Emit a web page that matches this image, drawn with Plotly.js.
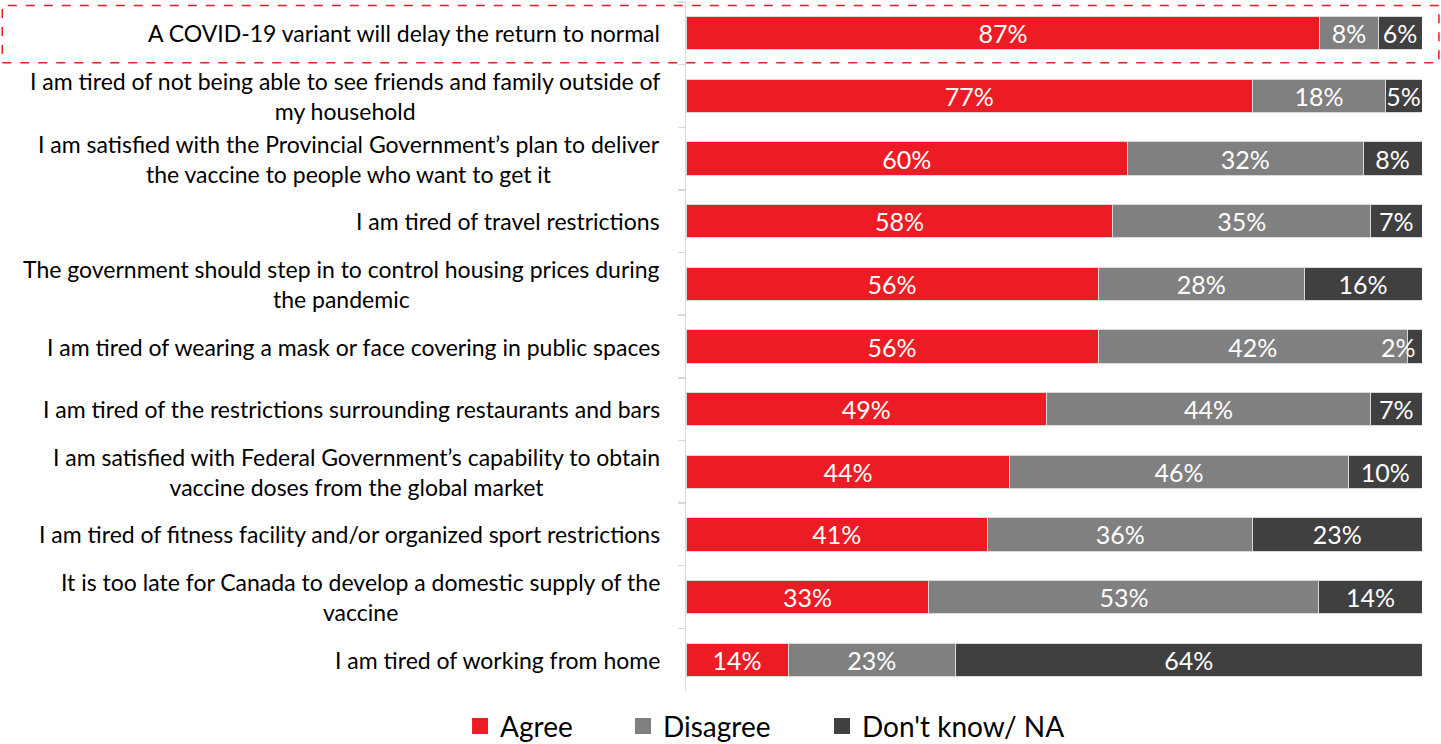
<!DOCTYPE html>
<html><head><meta charset="utf-8">
<script src="https://cdn.plot.ly/plotly-3.0.1.min.js"></script>
<style>html,body{margin:0;padding:0;background:#fff}#chart{width:1441px;height:744px}</style>
</head><body><div id="chart"></div>
<script>
const categories = [
  "A COVID-19 variant will delay the return to normal",
  "I am tired of not being able to see friends and family outside of<br>my household",
  "I am satisfied with the Provincial Government’s plan to deliver<br>the vaccine to people who want to get it",
  "I am tired of travel restrictions",
  "The government should step in to control housing prices during<br>the pandemic",
  "I am tired of wearing a mask or face covering in public spaces",
  "I am tired of the restrictions surrounding restaurants and bars",
  "I am satisfied with Federal Government’s capability to obtain<br>vaccine doses from the global market",
  "I am tired of fitness facility and/or organized sport restrictions",
  "It is too late for Canada to develop a domestic supply of the<br>vaccine",
  "I am tired of working from home"
];
const agree    = [87, 77, 60, 58, 56, 56, 49, 44, 41, 33, 14];
const disagree = [8, 18, 32, 35, 28, 42, 44, 46, 36, 53, 23];
const dontKnow = [6, 5, 8, 7, 16, 2, 7, 10, 23, 14, 64];
const seriesNames = ["Agree", "Disagree", "Don't know/ NA"];
const seriesColors = ["#ED1C24", "#808080", "#404040"];

const FONT = "Lato, 'Open Sans', sans-serif";
const ids = categories.map((c, i) => "c" + i);
const seriesVals = [agree, disagree, dontKnow];
const legendIds = ["legend", "legend2", "legend3"];
const traces = seriesVals.map((vals, k) => ({
  type: "bar", orientation: "h",
  name: seriesNames[k], showlegend: false,
  y: ids, x: vals,
  text: vals.map(v => v + "%"),
  textposition: vals.map(v => (k === 2 && v < 4) ? "none" : "inside"),
  insidetextanchor: "middle", textangle: 0,
  constraintext: "none", cliponaxis: false,
  textfont: {family: FONT, size: 25, color: "#ffffff"},
  marker: {color: seriesColors[k], line: {color: "#d9d9d9", width: 1}},
  hoverinfo: "skip"
}));
seriesNames.forEach((n, k) => traces.push({
  type: "scatter", mode: "markers", name: n,
  x: [null], y: [null], showlegend: true, legend: legendIds[k],
  marker: {symbol: "square", size: 18, color: seriesColors[k]},
  hoverinfo: "skip"
}));

const annotations = categories.map((c, i) => ({
  xref: "paper", yref: "y", x: 0, y: ids[i],
  xanchor: "right", yanchor: "middle", xshift: -24,
  text: c, showarrow: false, align: "center",
  font: {family: FONT, size: 23, color: "#000000"}
}));
// small end-of-bar labels that don't fit inside their segment: right-aligned at the bar end
dontKnow.forEach((v, i) => {
  if (v < 4) annotations.push({
    xref: "x", yref: "y", x: 100, y: ids[i], xanchor: "right", yanchor: "middle",
    xshift: -4, text: v + "%", showarrow: false,
    font: {family: FONT, size: 25, color: "#ffffff"}
  });
});

const legendBase = {
  orientation: "h", y: -0.015, yanchor: "top", xanchor: "left",
  font: {family: FONT, size: 28, color: "#000000"},
  itemsizing: "trace", itemwidth: 30, bgcolor: "rgba(0,0,0,0)"
};
const legendX = [-0.307, -0.0856, 0.1848];

const layout = {
  width: 1441, height: 744,
  margin: {l: 686, r: 19, t: 2, b: 53, autoexpand: false},
  paper_bgcolor: "#ffffff", plot_bgcolor: "#ffffff",
  barmode: "stack", barnorm: "percent", bargap: 0.47,
  uniformtext: {mode: "show", minsize: 25},
  xaxis: {range: [0, 100], visible: false, fixedrange: true},
  yaxis: {
    type: "category", autorange: "reversed",
    showticklabels: false, showgrid: false, zeroline: false,
    showline: true, linecolor: "#d9d9d9", linewidth: 1.5,
    ticks: "outside", tickson: "boundaries", ticklen: 7, tickcolor: "#d9d9d9", tickwidth: 1.5
  },
  showlegend: true,
  legend: Object.assign({}, legendBase, {x: legendX[0]}),
  legend2: Object.assign({}, legendBase, {x: legendX[1]}),
  legend3: Object.assign({}, legendBase, {x: legendX[2]}),
  annotations: annotations,
  shapes: [{
    type: "rect", xref: "paper", yref: "paper",
    x0: -0.929, x1: 1.023, y0: 0.912, y1: 0.995,
    line: {color: "#ED1C24", width: 1.5, dash: "dash"}, fillcolor: "rgba(0,0,0,0)"
  }]
};
Plotly.newPlot("chart", traces, layout, {displayModeBar: false, staticPlot: true});
</script></body></html>
